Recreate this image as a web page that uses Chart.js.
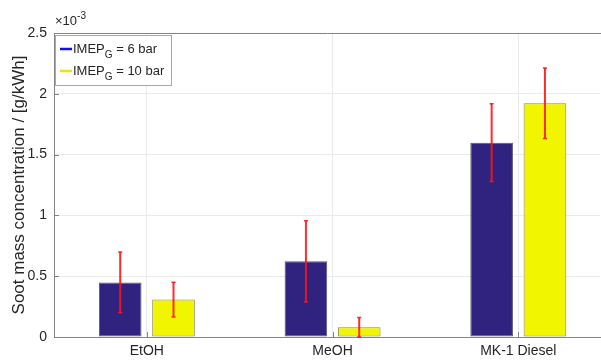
<!DOCTYPE html>
<html>
<head>
<meta charset="utf-8">
<script src="https://cdn.jsdelivr.net/npm/chart.js@4/dist/chart.umd.min.js"></script>
<style>
  html, body { margin: 0; padding: 0; background: #fff; overflow: hidden; }
</style>
</head>
<body>
<canvas id="sootChart" width="601" height="361"></canvas>
<script>
// values are in units of 1e-3 g/kWh (axis shows x10^-3)
const fuels = ['EtOH', 'MeOH', 'MK-1 Diesel'];
const seriesLabels = ['IMEP_G = 6 bar', 'IMEP_G = 10 bar'];
const soot6bar = [0.449, 0.622, 1.598];
const err6bar = [0.25, 0.335, 0.32];
const soot10bar = [0.308, 0.080, 1.923];
const err10bar = [0.143, 0.08, 0.29];
const yTicks = [0, 0.5, 1, 1.5, 2, 2.5];

const textColor = '#262626';
const axisColor = '#858585';
const gridColor = '#ebebeb';
const fontFamily = 'Arial, "Liberation Sans", Helvetica, sans-serif';

// red error bars, plus box top line, inward ticks, exponent label and legend
const extrasPlugin = {
  id: 'extras',
  afterDatasetsDraw(chart) {
    const ctx = chart.ctx;
    const y = chart.scales.y;
    const errs = [err6bar, err10bar];
    ctx.save();
    ctx.strokeStyle = 'rgba(255, 20, 20, 0.9)';
    chart.data.datasets.forEach((ds, i) => {
      const meta = chart.getDatasetMeta(i);
      meta.data.forEach((bar, j) => {
        const v = ds.data[j].y;
        const e = errs[i][j];
        const top = y.getPixelForValue(v + e);
        const bot = y.getPixelForValue(Math.max(v - e, 0));
        ctx.lineWidth = 2;
        ctx.beginPath();
        ctx.moveTo(bar.x, top);
        ctx.lineTo(bar.x, bot);
        ctx.stroke();
        ctx.lineWidth = 1.5;
        ctx.beginPath();
        ctx.moveTo(bar.x - 2, top);
        ctx.lineTo(bar.x + 2, top);
        ctx.moveTo(bar.x - 2, bot);
        ctx.lineTo(bar.x + 2, bot);
        ctx.stroke();
      });
    });
    ctx.restore();
  },
  afterDraw(chart) {
    const ctx = chart.ctx;
    const area = chart.chartArea;
    const xs = chart.scales.x, ys = chart.scales.y;
    ctx.save();
    // top frame line
    ctx.strokeStyle = axisColor;
    ctx.lineWidth = 1;
    ctx.beginPath();
    ctx.moveTo(area.left, area.top + 0.5);
    ctx.lineTo(area.right + 1, area.top + 0.5);
    // inward tick marks
    yTicks.forEach(v => {
      const py = Math.round(ys.getPixelForValue(v)) + 0.5;
      ctx.moveTo(area.left, py);
      ctx.lineTo(area.left + 5, py);
    });
    fuels.forEach((f, i) => {
      const px = Math.round(xs.getPixelForValue(i + 1)) + 0.5;
      ctx.moveTo(px, area.bottom);
      ctx.lineTo(px, area.bottom - 5);
    });
    ctx.stroke();

    // x10^-3 exponent
    ctx.fillStyle = textColor;
    ctx.textBaseline = 'alphabetic';
    ctx.font = '13px ' + fontFamily;
    ctx.fillText('\u00d710', area.left + 1, area.top - 8);
    const w = ctx.measureText('\u00d710').width;
    ctx.font = '10px ' + fontFamily;
    ctx.fillText('-3', area.left + 1 + w, area.top - 14);

    // legend box
    const lx = area.left + 1, ly = area.top + 2, lw = 117, lh = 51;
    ctx.fillStyle = '#fff';
    ctx.fillRect(lx, ly, lw, lh);
    ctx.strokeStyle = '#a8a8a8';
    ctx.strokeRect(lx + 0.5, ly + 0.5, lw - 1, lh - 1);
    const lineColors = ['#1010e8', '#e8e800'];
    seriesLabels.forEach((label, i) => {
      const cy = ly + 14 + i * 22;
      ctx.strokeStyle = lineColors[i];
      ctx.lineWidth = 2.5;
      ctx.beginPath();
      ctx.moveTo(lx + 5, cy);
      ctx.lineTo(lx + 17, cy);
      ctx.stroke();
      const [main, rest] = label.split('_');
      const sub = rest.charAt(0);
      const tail = rest.slice(1);
      let tx = lx + 18;
      ctx.fillStyle = textColor;
      ctx.textBaseline = 'middle';
      ctx.font = '13px ' + fontFamily;
      ctx.fillText(main, tx, cy);
      tx += ctx.measureText(main).width;
      ctx.font = '10px ' + fontFamily;
      ctx.fillText(sub, tx, cy + 6);
      tx += ctx.measureText(sub).width;
      ctx.font = '13px ' + fontFamily;
      ctx.fillText(tail, tx, cy);
    });
    ctx.restore();
  }
};

const ctx = document.getElementById('sootChart').getContext('2d');
new Chart(ctx, {
  type: 'bar',
  data: {
    datasets: [
      {
        label: seriesLabels[0],
        data: soot6bar.map((v, i) => ({ x: i + 1, y: v })),
        backgroundColor: '#30227f',
        borderColor: '#5a5a6e',
        borderWidth: 1,
        borderSkipped: false
      },
      {
        label: seriesLabels[1],
        data: soot10bar.map((v, i) => ({ x: i + 1, y: v })),
        backgroundColor: '#f2f500',
        borderColor: '#8a8a50',
        borderWidth: 1,
        borderSkipped: false
      }
    ]
  },
  options: {
    responsive: false,
    animation: false,
    categoryPercentage: 0.574,
    barPercentage: 0.8,
    layout: { padding: { top: 33, right: 1, left: 0, bottom: 0 } },
    plugins: {
      legend: { display: false },
      tooltip: { enabled: false }
    },
    scales: {
      x: {
        type: 'linear',
        offset: false,
        min: 0.5,
        max: 3.44,
        afterBuildTicks: (scale) => {
          scale.ticks = fuels.map((f, i) => ({ value: i + 1 }));
        },
        afterFit: (scale) => { scale.height = 24; },
        ticks: {
          callback: (v) => fuels[v - 1],
          color: textColor,
          font: { family: fontFamily, size: 14 },
          padding: 6,
          maxRotation: 0
        },
        grid: { color: gridColor, drawTicks: false, offset: false },
        border: { color: axisColor }
      },
      y: {
        min: 0,
        max: 2.5,
        afterBuildTicks: (scale) => {
          scale.ticks = yTicks.map(v => ({ value: v }));
        },
        afterFit: (scale) => { scale.width = 54; },
        ticks: {
          callback: (v) => String(v),
          color: textColor,
          font: { family: fontFamily, size: 14 },
          padding: 7
        },
        grid: { color: gridColor, drawTicks: false },
        border: { color: axisColor },
        title: {
          display: true,
          text: 'Soot mass concentration / [g/kWh]',
          color: textColor,
          font: { family: fontFamily, size: 17 },
          padding: { top: 9, bottom: 0 }
        }
      }
    }
  },
  plugins: [extrasPlugin]
});
</script>
</body>
</html>
